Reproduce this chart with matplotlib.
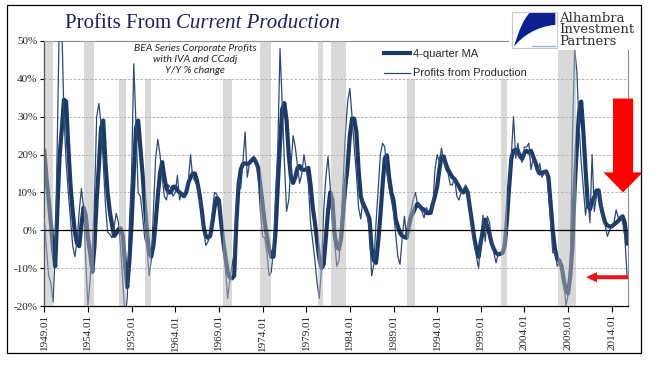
import matplotlib
matplotlib.use("Agg")
import matplotlib.pyplot as plt
from matplotlib.patches import Rectangle, FancyArrow, PathPatch
from matplotlib.path import Path
from matplotlib.lines import Line2D
import numpy as np
import pandas as pd

# BEA corporate profits w/ IVA & CCadj, Y/Y % change, quarterly 1949Q1 - 2015Q4
profits_yoy = [
    3, -5, -12, -14, -19, -6, 25, 60, 55, 30, 18, 10,          # 1949-51
    3, -4, -7, -3, 5, 11, 6, -8, -20, -13, -5, 8,              # 1952-54
    30, 33.5, 28, 18, 7, -0.5, -1, -2, 1, 4.5, 2, -5,          # 1955-57
    -14, -23, -18, 2, 15, 44, 28, 10, 9, 4, -2, -4,            # 1958-60
    -12, -8, 5, 19, 24, 20, 14, 9, 8, 12, 11, 9,               # 1961-63
    10, 14.5, 8, 10, 9, 11, 13, 20, 14, 13, 12, 10,            # 1964-66
    6, 0, -4, -3, -1, 5, 10, 9.5, 8, 3, -5, -10,               # 1967-69
    -18, -13, -9.5, -6, 7, 14, 11, 18, 26, 14, 17.7, 19,       # 1970-72
    19.5, 18.6, 14, 5, -1.6, -2, -6, -12, -11, -5, 10, 22,     # 1973-75
    48, 33.6, 18, 5, 8, 17, 25, 22, 17, 12.4, 15, 20,          # 1976-78
    16, 12, 2, -3, -8, -14, -18, -10, 5, 14, 19.5, 11.5,       # 1979-81
    2, -3, -9.5, -8, 2, 14, 26, 34, 37.5, 30, 22, 15,          # 1982-84
    6, 3, 8, 7, 4, 0, -12, -9, 2, 11, 20, 23,                  # 1985-87
    22, 15, 11, 8, 5, -1, -7, -9, -2, 3.7, -1.6, 3,            # 1988-90
    5, 8, 10, 7, 6, 5, 3.3, 6, 5, 5, 6, 16,                    # 1991-93
    20, 18, 21.7, 18, 16, 15, 12, 12, 14, 9, 8, 10,            # 1994-96
    10.6, 12, 11, 5, 0, -3.5, -7, -10, -2, 4, -3, 3.7,         # 1997-99
    2, -3, -6, -8.6, -6, -6, -5, -1, 5, 14, 20, 30,            # 2000-02
    19, 23, 19, 18, 22, 22, 23, 16, 19, 17, 15, 17.7,          # 2003-05
    14, 15, 16, 10, 2, -6, -5.5, -9.5, -8.5, -10, -13, -20,    # 2006-08
    -17, -10, 25, 48, 42, 28, 18, 11, 4, 9, 2, 20,             # 2009-11
    5, 9, 11, 7, 3, 1.3, -1.6, 0, 1, 2, 5.4, 3.3,              # 2012-14
    3.7, 2, -1.6, -12,                                         # 2015
]
ma_4q = [
    21, 14, 8, 2, -5, -9.5, 5.5, 19.5, 26.5, 34.5, 34, 22,     # 1949-51
    12, 5, -0.5, -3.5, -4.2, 1.5, 6, 4, -2, -6, -11, -4,       # 1952-54
    8, 17, 27, 29, 18, 10, 5, 1.5, -1.5, -0.8, 0.3, 0.5,       # 1955-57
    -1.5, -9, -15, -8, 2, 15, 27, 29, 22, 15, 7, 0,            # 1958-60
    -6, -7, -4, 2, 9, 15, 18, 14, 11, 10, 10, 11.5,            # 1961-63
    11.5, 10.5, 10, 9.5, 9, 10, 12.5, 14, 15, 15, 13, 10,      # 1964-66
    6, 1, -1.5, -2, -1.5, 2, 6, 8.5, 8, 2, -3, -7,             # 1967-69
    -11, -12.5, -12.7, -12, 2, 12, 16, 17.5, 17.7, 17.5, 17.8, 18.5,  # 1970-72
    19, 18, 16.5, 12, 7, 2, -1.5, -5, -7, -7, 0, 12,           # 1973-75
    23, 32, 33.6, 29, 20, 14, 12.5, 14, 16.5, 17, 16, 16,      # 1976-78
    16, 16.5, 12, 6, 2, -3, -7.5, -10, -9, -2, 5, 10,          # 1979-81
    8, -1, -4.4, -5, -2, 5, 12, 17, 25, 29.5, 29.5, 26,        # 1982-84
    16, 9, 7, 6, 4.5, 3, -5, -8, -8.6, -3, 4, 12,              # 1985-87
    19, 19.8, 14, 10, 8, 3, 1, -0.7, -1.5, -1.8, -2, 1,        # 1988-90
    3.7, 4.6, 6, 7, 6.3, 5.8, 5.4, 4.6, 4.5, 4.6, 7, 9,        # 1991-93
    11.5, 16, 19.5, 19.5, 17.5, 16, 15, 14, 13.5, 12.5, 11.5, 10.5,  # 1994-96
    10, 11, 10, 6, 2, -2, -5, -7, -3, 0, 2.8, 1,               # 1997-99
    -1, -3.5, -5, -6, -6.4, -6.2, -6, -4, 3, 11.5, 19, 21,     # 2000-02
    21.3, 21, 19.5, 18.9, 20.5, 21, 20.5, 21, 19.5, 18, 16, 15,  # 2003-05
    15.2, 15.4, 15.5, 14, 7, 0, -5, -7.5, -8, -9.5, -13, -16,  # 2006-08
    -16.7, -12, -4, 11, 22, 31, 34, 26, 16, 7, 5.5, 7.5,       # 2009-11
    8.8, 10.5, 10.5, 6.5, 4, 2, 1.3, 1, 1, 1.5, 2, 2.5,        # 2012-14
    3.2, 3.7, 2, -3.5,                                         # 2015
]

# recession shading (start, end in fractional years, top in %)
rec_start = [1949.0, 1953.55, 1957.56, 1960.57, 1969.5, 1973.71, 1980.35, 1981.84, 1990.58, 2001.31, 2007.88]
rec_end = [1949.96, 1954.69, 1958.36, 1961.19, 1970.53, 1974.97, 1980.92, 1983.52, 1991.46, 2002.0, 2009.87]
rec_top = [50, 50, 40, 40, 40, 50, 50, 50, 40, 40, 50]

tick_years = list(range(1949, 2015, 5))
tick_labels = [f"{y}.01" for y in tick_years]
y_ticks = list(range(-20, 51, 10))

quarters = pd.period_range("1949Q1", periods=len(profits_yoy), freq="Q")
x = quarters.year + (quarters.quarter - 1) / 4.0

W, H = 660, 375
fig = plt.figure(figsize=(W / 100, H / 100), dpi=100)


def fx(px):
    return px / W


def fy(py):
    return 1 - py / H


ax = fig.add_axes([fx(44.3), fy(306), fx(628 - 44.3), (306 - 41) / H])
ax.set_xlim(1949.0, 1949.0 + (628 - 44.3) / 8.73)
ax.set_ylim(-20, 50)

# grid
for yv in y_ticks:
    if yv in (-20, 0, 50):
        continue
    ax.axhline(yv, color="#a6a6a6", lw=0.6, ls=(0, (3, 2)), zorder=1)
ax.axhline(0, color="black", lw=0.9, zorder=6)

ax.plot(x, ma_4q, color="#1c3a66", lw=3.0, zorder=2, solid_joinstyle="round")
ax.plot(x, profits_yoy, color="#2b4a78", lw=0.9, zorder=3)

widths = np.array(rec_end) - np.array(rec_start)
heights = np.array(rec_top) + 20
ax.bar(rec_start, heights, width=widths, bottom=-20, align="edge",
       color="#b4b4b4", alpha=0.5, lw=0, zorder=4)

for s in ("left", "bottom"):
    ax.spines[s].set_color("black")
    ax.spines[s].set_linewidth(0.9)
for s in ("top", "right"):
    ax.spines[s].set_color("#8c8c8c")
    ax.spines[s].set_linewidth(0.8)

ax.set_yticks(y_ticks)
ax.set_yticklabels([f"{v}%" for v in y_ticks])
ax.set_xticks(tick_years)
ax.set_xticklabels(tick_labels, rotation=90)
ax.tick_params(axis="y", direction="out", length=3, width=0.8, pad=2,
               labelsize=8, labelcolor="#262626")
ax.tick_params(axis="x", direction="out", length=4, width=0.8, pad=2,
               labelsize=8, labelcolor="#262626")
for lab in ax.get_xticklabels() + ax.get_yticklabels():
    lab.set_family("Liberation Serif")

# red arrows
ax.add_patch(FancyArrow(2015.3, 34.8, 0, -19.5, width=2.3, head_width=4.5,
                        head_length=5.3, length_includes_head=False,
                        color="#ff0000", lw=0, clip_on=False, zorder=8))
ax.add_patch(FancyArrow(2015.86, -12.4, -3.55, 0, width=1.05, head_width=2.7,
                        head_length=1.25, length_includes_head=False,
                        color="#e8141c", lw=0, clip_on=False, zorder=8))

# legend
handles = [Line2D([], [], color="#1c3a66", lw=3.0),
           Line2D([], [], color="#2b4a78", lw=0.9)]
leg = fig.legend(handles, ["4-quarter MA", "Profits from Production"],
                 loc="upper left", bbox_to_anchor=(fx(384), fy(49)),
                 frameon=False, borderpad=0, borderaxespad=0, handlelength=2.3,
                 handletextpad=0.35, labelspacing=0.85,
                 prop={"family": "Liberation Sans", "size": 8})
for t in leg.get_texts():
    t.set_color("#262626")

# note
fig.text(fx(195), fy(44), "BEA Series Corporate Profits\nwith IVA and CCadj\nY/Y % change",
         ha="center", va="top", fontsize=7.5, style="italic", family="Lato",
         color="#262626", linespacing=1.3)

# title
fig.canvas.draw()
r = fig.canvas.get_renderer()
t1 = fig.text(fx(65), fy(28.5), "Profits From ", fontsize=15, family="Liberation Serif",
              color="#1f2060", va="baseline")
bb = t1.get_window_extent(renderer=r)
fig.text(bb.x1 / W, fy(28.5), "Current Production", fontsize=15, family="Liberation Serif",
         style="italic", color="#1f2060", va="baseline")

# logo
fig.patches.append(Rectangle((fx(509), fy(50)), fx(642 - 509), (50 - 8) / H,
                             transform=fig.transFigure, facecolor="white",
                             edgecolor="none", zorder=5))
lax = fig.add_axes([fx(511.7), fy(48.3), fx(45), 36.6 / H])
lax.set_zorder(6)
lax.set_xlim(0, 1)
lax.set_ylim(0, 1)
lax.set_xticks([])
lax.set_yticks([])
for s in lax.spines.values():
    s.set_color("#c8c8c8")
    s.set_linewidth(0.8)
verts = [(0.40, 0.97), (0.97, 0.97), (0.97, 0.64),
         (0.55, 0.60), (0.22, 0.32), (0.05, 0.04),
         (0.15, 0.45), (0.25, 0.78), (0.40, 0.97)]
codes = [Path.MOVETO, Path.LINETO, Path.LINETO,
         Path.CURVE4, Path.CURVE4, Path.CURVE4,
         Path.CURVE4, Path.CURVE4, Path.CURVE4]
lax.add_patch(PathPatch(Path(verts, codes), facecolor="#0b1f8f", edgecolor="none"))
lax.plot([0.45, 0.97], [0.05, 0.05], color="#9fb4e0", lw=1)
fig.text(fx(559), fy(12), "Alhambra\nInvestment\nPartners", fontsize=9.5,
         family="DejaVu Serif", color="#333333", va="top", ma="left",
         linespacing=0.84, zorder=7)

# outer frame
fig.patches.append(Rectangle((fx(7), fy(353)), fx(641 - 7), (353 - 5) / H,
                             transform=fig.transFigure, fill=False,
                             edgecolor="black", lw=0.9, zorder=7))

fig.savefig("out.png", dpi=100)
